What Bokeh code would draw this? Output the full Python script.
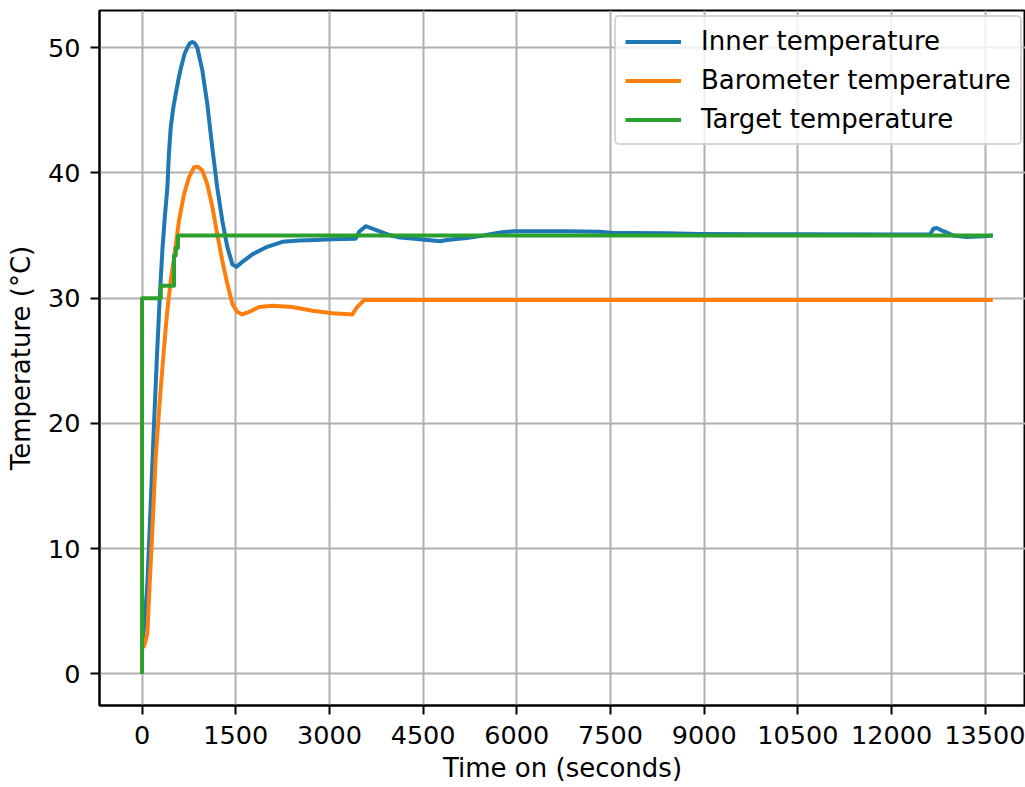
from bokeh.plotting import figure
from bokeh.models import Range1d, FixedTicker, Legend, LegendItem
from bokeh.embed import file_html
from bokeh.resources import INLINE

# ---------------- data ----------------
inner_t = [0, 40, 85, 130, 192, 240, 283, 325, 365, 405, 430, 459, 500, 539, 580, 619,
           680, 725, 765, 805, 845, 885, 965, 1045, 1125, 1205, 1285, 1365, 1446, 1510,
           1606, 1766, 1980, 2246, 2513, 2780, 3047, 3421, 3475, 3581, 3741, 3954, 4130,
           4450, 4771, 4878, 5198, 5465, 5731, 5945, 6265, 6799, 7332, 7545, 7866,
           8400, 8934, 10535, 12136, 12616, 12670, 12723, 12830, 12990, 13204, 13470,
           13620]
inner_T = [2.5, 4.0, 7.2, 12.5, 20.0, 25.5, 30.0, 33.8, 36.5, 38.8, 41.5, 43.6, 45.2,
           46.3, 47.4, 48.3, 49.5, 50.0, 50.35, 50.45, 50.35, 50.0, 48.2, 45.5, 42.0,
           38.8, 36.2, 34.1, 32.7, 32.5, 32.9, 33.5, 34.05, 34.5, 34.6, 34.65, 34.7,
           34.75, 35.3, 35.75, 35.45, 35.05, 34.85, 34.7, 34.55, 34.65, 34.8, 35.0,
           35.25, 35.35, 35.35, 35.35, 35.3, 35.2, 35.2, 35.18, 35.12, 35.1, 35.08,
           35.08, 35.55, 35.6, 35.35, 35.0, 34.88, 34.95, 35.0]

baro_t = [0, 32, 85, 123, 155, 219, 288, 340, 379, 405, 459, 512, 592, 672, 752, 832,
          896, 965, 1045, 1125, 1205, 1285, 1365, 1446, 1526, 1606, 1713, 1873, 2086,
          2406, 2726, 3047, 3367, 3447, 3554, 13620]
baro_T = [2.3, 2.2, 3.2, 7.3, 10.4, 17.3, 22.1, 25.3, 27.6, 29.0, 31.4, 33.2, 36.2,
          38.3, 39.65, 40.45, 40.5, 40.2, 39.1, 37.3, 35.1, 33.0, 31.15, 29.55, 28.9,
          28.7, 28.9, 29.3, 29.4, 29.3, 29.0, 28.8, 28.7, 29.3, 29.85, 29.85]

target_t = [0, 0, 300, 300, 512, 512, 540, 540, 575, 575, 13620]
target_T = [0, 30, 30, 31, 31, 33.4, 33.4, 34.0, 34.0, 35.0, 35.0]

x_ticks = [0, 1500, 3000, 4500, 6000, 7500, 9000, 10500, 12000, 13500]
y_ticks = [0, 10, 20, 30, 40, 50]

x_label = "Time on (seconds)"
y_label = "Temperature (°C)"
labels = ["Inner temperature", "Barometer temperature", "Target temperature"]
colors = ["#1f77b4", "#ff7f0e", "#2ca02c"]

# ---------------- figure ----------------
FONT = "DejaVu Sans"
FS = "25.5px"
FS_L = "26px"

p = figure(width=1025, height=787, output_backend="svg", toolbar_location=None,
           x_range=Range1d(-681, 14144), y_range=Range1d(-2.52, 52.97),
           min_border_left=99, min_border_right=0, min_border_top=10,
           min_border_bottom=82)

p.background_fill_color = "white"
p.border_fill_color = "white"
p.outline_line_color = "black"
p.outline_line_width = 2
p.outline_line_alpha = 1.0

p.xaxis.ticker = FixedTicker(ticks=x_ticks)
p.yaxis.ticker = FixedTicker(ticks=y_ticks)

for ax in (p.xaxis, p.yaxis):
    ax.axis_line_width = 2
    ax.axis_line_color = "black"
    ax.major_tick_line_width = 2
    ax.major_tick_line_color = "black"
    ax.major_tick_out = 9
    ax.major_tick_in = 0
    ax.minor_tick_line_color = None
    ax.major_label_text_font = FONT
    ax.major_label_text_font_size = FS
    ax.major_label_text_color = "black"
    ax.axis_label_text_font = FONT
    ax.axis_label_text_font_size = FS_L
    ax.axis_label_text_font_style = "normal"
    ax.axis_label_text_color = "black"

p.xaxis.axis_label = x_label
p.yaxis.axis_label = y_label
p.xaxis.major_label_standoff = 11
p.xaxis.axis_label_standoff = 6
p.yaxis.major_label_standoff = 10
p.yaxis.axis_label_standoff = 9

p.grid.grid_line_color = "#b0b0b0"
p.grid.grid_line_width = 2

series = [(inner_t, inner_T), (baro_t, baro_T), (target_t, target_T)]
renderers = []
for (tx, ty), c in zip(series, colors):
    r = p.line(tx, ty, line_width=4.0, line_color=c, line_join="round")
    renderers.append(r)

legend = Legend(items=[LegendItem(label=l, renderers=[r]) for l, r in zip(labels, renderers)],
                location=(515, 560), margin=0, padding=9, spacing=9,
                glyph_width=56, glyph_height=29, label_height=29, label_standoff=20,
                label_text_font=FONT, label_text_font_size=FS_L, label_text_color="black",
                border_line_color="#cccccc", border_line_width=2, border_line_alpha=0.8,
                border_radius=5,
                background_fill_color="white", background_fill_alpha=0.8)
p.add_layout(legend)

open("out.html", "w").write(file_html(p, INLINE))
